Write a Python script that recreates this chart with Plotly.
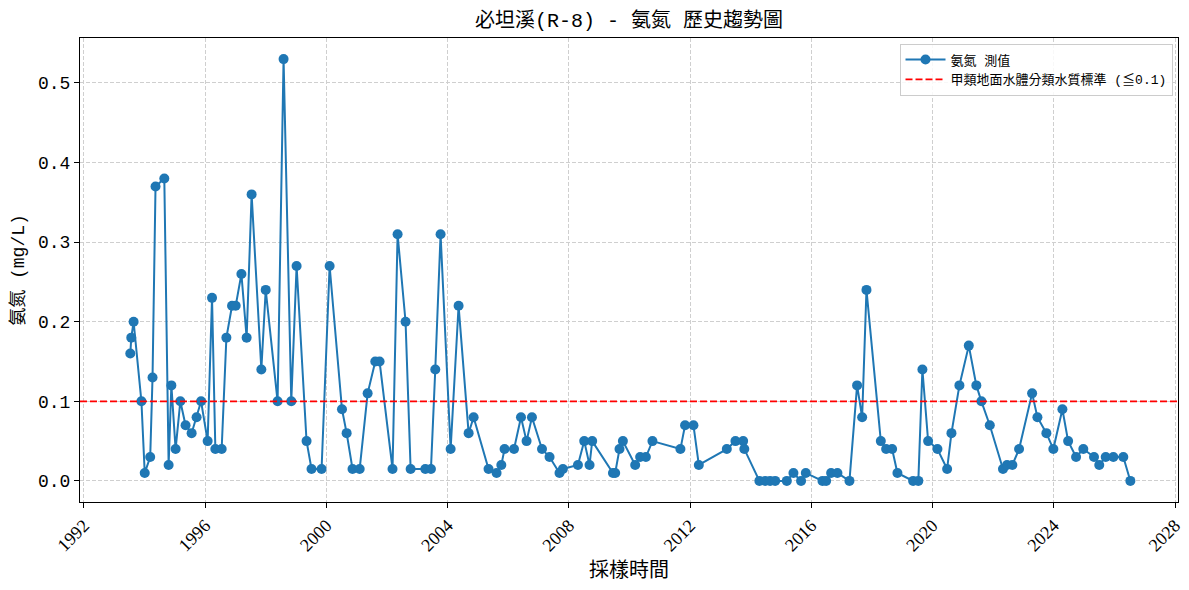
import plotly.graph_objects as go

station = '必坦溪(R-8)'
item = '氨氮'
standard = 0.1

dates = [
    '1993-07-13', '1993-07-25', '1993-08-22', '1993-11-24', '1994-01-03', '1994-03-10',
    '1994-04-07', '1994-05-13', '1994-08-27', '1994-10-18', '1994-11-20', '1995-01-10',
    '1995-03-08', '1995-05-10', '1995-07-22', '1995-09-20', '1995-11-13', '1996-01-31',
    '1996-03-24', '1996-05-03', '1996-07-18', '1996-09-13', '1996-11-20', '1997-01-03',
    '1997-03-13', '1997-05-15', '1997-07-14', '1997-11-08', '1997-12-31', '1998-05-23',
    '1998-08-03', '1998-11-04', '1999-01-07', '1999-05-07', '1999-07-06', '1999-11-04',
    '2000-02-09', '2000-07-07', '2000-09-01', '2000-11-11', '2001-02-05', '2001-05-12',
    '2001-08-12', '2001-10-03', '2002-03-08', '2002-05-08', '2002-08-12', '2002-10-12',
    '2003-04-07', '2003-06-14', '2003-08-05', '2003-10-08', '2004-02-06', '2004-05-12',
    '2004-09-10', '2004-11-09', '2005-05-08', '2005-08-13', '2005-10-09', '2005-11-17',
    '2006-03-11', '2006-06-03', '2006-08-09', '2006-10-13', '2007-02-11', '2007-05-13',
    '2007-09-10', '2007-10-21', '2008-04-19', '2008-07-04', '2008-09-06', '2008-10-08',
    '2009-06-15', '2009-07-12', '2009-09-02', '2009-10-13', '2010-03-10', '2010-05-09',
    '2010-07-17', '2010-10-04', '2011-09-06', '2011-11-01', '2012-02-10', '2012-04-15',
    '2013-03-18', '2013-06-30', '2013-10-01', '2013-10-15', '2014-04-15', '2014-06-23',
    '2014-08-22', '2014-10-22', '2015-03-11', '2015-05-30', '2015-08-30', '2015-10-26',
    '2016-05-14', '2016-06-27', '2016-08-26', '2016-11-10', '2017-04-04', '2017-07-05',
    '2017-09-04', '2017-10-26', '2018-04-17', '2018-06-20', '2018-08-31', '2018-11-03',
    '2019-05-11', '2019-07-13', '2019-08-31', '2019-11-08', '2020-02-28', '2020-06-24',
    '2020-08-15', '2020-11-19', '2021-03-12', '2021-06-11', '2021-08-11', '2021-11-20',
    '2022-04-28', '2022-06-16', '2022-08-19', '2022-11-08', '2023-04-14', '2023-06-17',
    '2023-10-03', '2023-12-26', '2024-04-13', '2024-06-21', '2024-09-25', '2024-12-21',
    '2025-04-29', '2025-07-01', '2025-09-17', '2025-12-18', '2026-04-17', '2026-07-11',
]

values = [
    0.16, 0.18, 0.20, 0.10, 0.01, 0.03,
    0.13, 0.37, 0.38, 0.02, 0.12, 0.04,
    0.10, 0.07, 0.06, 0.08, 0.10, 0.05,
    0.23, 0.04, 0.04, 0.18, 0.22, 0.22,
    0.26, 0.18, 0.36, 0.14, 0.24, 0.10,
    0.53, 0.10, 0.27, 0.05, 0.015, 0.015,
    0.27, 0.09, 0.06, 0.015, 0.015, 0.11,
    0.15, 0.15, 0.015, 0.31, 0.20, 0.015,
    0.015, 0.015, 0.14, 0.31, 0.04, 0.22,
    0.06, 0.08, 0.015, 0.01, 0.02, 0.04,
    0.04, 0.08, 0.05, 0.08, 0.04, 0.03,
    0.01, 0.015, 0.02, 0.05, 0.02, 0.05,
    0.01, 0.01, 0.04, 0.05, 0.02, 0.03,
    0.03, 0.05, 0.04, 0.07, 0.07, 0.02,
    0.04, 0.05, 0.05, 0.04, 0.0, 0.0,
    0.0, 0.0, 0.0, 0.01, 0.0, 0.01,
    0.0, 0.0, 0.01, 0.01, 0.0, 0.12,
    0.08, 0.24, 0.05, 0.04, 0.04, 0.01,
    0.0, 0.0, 0.14, 0.05, 0.04, 0.015,
    0.06, 0.12, 0.17, 0.12, 0.10, 0.07,
    0.015, 0.02, 0.02, 0.04, 0.11, 0.08,
    0.06, 0.04, 0.09, 0.05, 0.03, 0.04,
    0.03, 0.02, 0.03, 0.03, 0.03, 0.0,
]

y_ticks = [0.0, 0.1, 0.2, 0.3, 0.4, 0.5]
y_tick_labels = ['0.0', '0.1', '0.2', '0.3', '0.4', '0.5']

mono = 'Liberation Mono, Noto Sans CJK TC, monospace'
serif = 'Liberation Serif, Noto Sans CJK TC, serif'
blue = '#1f77b4'

fig = go.Figure()

fig.add_trace(
    go.Scatter(
        x=dates, y=values, mode='lines+markers', name=f'{item} 測值',
        line=dict(color=blue, width=2),
        marker=dict(color=blue, size=10),
    )
)

# standard line across the whole axis
fig.add_shape(
    type='line', xref='paper', x0=0, x1=1, yref='y', y0=standard, y1=standard,
    line=dict(color='red', width=1.8, dash='7px,3px'),
    showlegend=True, name=f'甲類地面水體分類水質標準 (≦{standard})',
)

grid = dict(showgrid=True, gridcolor='#cfcfcf', griddash='4px,2px', gridwidth=0.8)

# page body has an 8px margin, so the figure is offset by it
fig.update_layout(
    title=dict(
        text=f'{station} - {item} 歷史趨勢圖',
        x=0.5, xanchor='center', xref='paper',
        y=1 - 12 / 574, yanchor='middle', yref='container',
        font=dict(size=20, color='black', family=mono),
    ),
    plot_bgcolor='white',
    paper_bgcolor='white',
    font=dict(family=mono, color='black', size=16),
    xaxis=dict(
        title=dict(text='採樣時間', font=dict(size=20, family=serif), standoff=8),
        type='date',
        range=['1991-11-15', '2028-02-05'],
        tick0='1992-01-01', dtick='M48', tickformat='%Y',
        tickangle=-45, ticklabeloverflow='allow',
        tickfont=dict(family=serif, size=18),
        ticks='outside', ticklen=5, tickcolor='black',
        showline=True, linecolor='black', linewidth=1, mirror=True,
        zeroline=False, automargin=False,
        **grid,
    ),
    yaxis=dict(
        title=dict(text=f'{item} (mg/L)', font=dict(size=18, family=mono), standoff=10),
        range=[-0.0265, 0.5565],
        tickvals=y_ticks, ticktext=y_tick_labels,
        tickfont=dict(family=mono, size=18),
        ticks='outside', ticklen=5, tickcolor='black',
        showline=True, linecolor='black', linewidth=1, mirror=True,
        zeroline=False, automargin=False,
        **grid,
    ),
    legend=dict(
        x=0.995, y=0.988, xanchor='right', yanchor='top',
        bgcolor='rgba(255,255,255,0.85)', bordercolor='#cccccc', borderwidth=1,
        font=dict(size=13, family=mono),
        tracegroupgap=0, itemwidth=40,
    ),
    showlegend=True,
    margin=dict(l=72, r=11, t=30, b=80),
    width=1181,
    height=574,
)

fig.write_html('out.html')
